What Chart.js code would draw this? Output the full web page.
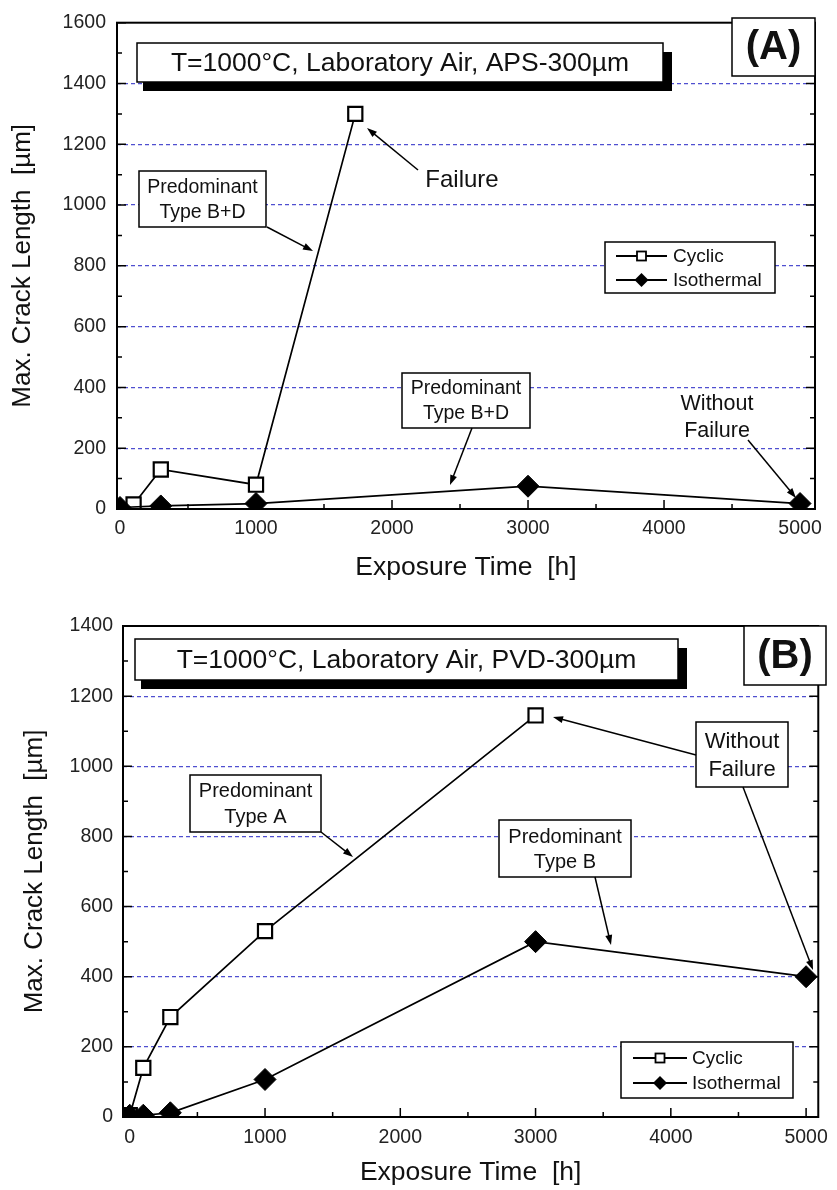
<!DOCTYPE html>
<html>
<head>
<meta charset="utf-8">
<script src="https://cdn.jsdelivr.net/npm/chart.js@4.4.1/dist/chart.umd.min.js"></script>
<style>
  html, body { margin: 0; padding: 0; background: #fff; }
  .panel { position: absolute; left: 0; width: 837px; height: 595px; }
</style>
</head>
<body>
<div class="panel" style="top:0"><canvas id="chartA" width="837" height="595"></canvas></div>
<div class="panel" style="top:595px"><canvas id="chartB" width="837" height="595"></canvas></div>
<script>
const FONT = "'Liberation Sans', Arial, sans-serif";

// axis ticks
const xTicks = [0, 1000, 2000, 3000, 4000, 5000];
const yTicksA = [0, 200, 400, 600, 800, 1000, 1200, 1400, 1600];
const yTicksB = [0, 200, 400, 600, 800, 1000, 1200, 1400];

const seriesNames = ['Cyclic', 'Isothermal'];

// (A) APS-300um
const timeCyclicA = [100, 300, 1000, 1730];
const crackCyclicA = [15, 130, 80, 1300];
const timeIsoA = [0, 300, 1000, 3000, 5000];
const crackIsoA = [5, 10, 18, 75, 18];

// (B) PVD-300um
const timeCyclicB = [0, 100, 300, 1000, 3000];
const crackCyclicB = [5, 140, 285, 530, 1145];
const timeIsoB = [0, 100, 300, 1000, 3000, 5000];
const crackIsoB = [5, 5, 12, 107, 500, 400];

function pts(xs, ys) {
  return xs.map((x, i) => ({ x: x, y: ys[i] }));
}

function drawArrow(ctx, x1, y1, x2, y2) {
  const ang = Math.atan2(y2 - y1, x2 - x1);
  const hl = 10, hw = 3.5;
  ctx.beginPath();
  ctx.moveTo(x1, y1);
  ctx.lineTo(x2 - Math.cos(ang) * hl * 0.8, y2 - Math.sin(ang) * hl * 0.8);
  ctx.stroke();
  ctx.beginPath();
  ctx.moveTo(x2, y2);
  ctx.lineTo(x2 - Math.cos(ang) * hl - Math.sin(ang) * hw, y2 - Math.sin(ang) * hl + Math.cos(ang) * hw);
  ctx.lineTo(x2 - Math.cos(ang) * hl + Math.sin(ang) * hw, y2 - Math.sin(ang) * hl - Math.cos(ang) * hw);
  ctx.closePath();
  ctx.fill();
}

function drawLines(ctx, lines, cx, cy, size, lh, bold) {
  ctx.font = (bold ? 'bold ' : '') + size + 'px ' + FONT;
  ctx.textAlign = 'center';
  ctx.textBaseline = 'middle';
  const y0 = cy - (lines.length - 1) * lh / 2;
  lines.forEach((s, i) => ctx.fillText(s, cx, y0 + i * lh));
}

// frame, inward ticks, text boxes, arrows and legend
const framePlugin = {
  id: 'frame',
  afterDraw(chart, args, o) {
    const ctx = chart.ctx, a = chart.chartArea;
    const xs = chart.scales.x, ys = chart.scales.y;
    ctx.save();
    ctx.strokeStyle = '#000';
    ctx.fillStyle = '#111';
    ctx.lineWidth = 1.5;
    ctx.beginPath();
    for (let v = 0; v <= xs.max; v += 500) {
      const px = xs.getPixelForValue(v);
      const len = v % 1000 === 0 ? 9 : 5;
      ctx.moveTo(px, a.bottom);
      ctx.lineTo(px, a.bottom - len);
    }
    for (let v = 0; v <= ys.max; v += 100) {
      const py = ys.getPixelForValue(v);
      const len = v % 200 === 0 ? 9 : 5;
      ctx.moveTo(a.left, py);
      ctx.lineTo(a.left + len, py);
      ctx.moveTo(a.right, py);
      ctx.lineTo(a.right - len, py);
    }
    ctx.stroke();
    ctx.lineWidth = 2;
    ctx.strokeRect(a.left, a.top, a.right - a.left, a.bottom - a.top);

    ctx.lineWidth = 1.5;
    o.items.forEach(it => {
      if (it.t === 'shadow') {
        ctx.fillStyle = '#000';
        ctx.fillRect(it.x1 + 6, it.y1 + 9, it.x2 - it.x1 + 3, it.y2 - it.y1);
        ctx.fillStyle = '#fff';
        ctx.fillRect(it.x1, it.y1, it.x2 - it.x1, it.y2 - it.y1);
        ctx.strokeRect(it.x1, it.y1, it.x2 - it.x1, it.y2 - it.y1);
        ctx.fillStyle = '#111';
        drawLines(ctx, [it.text], (it.x1 + it.x2) / 2, (it.y1 + it.y2) / 2 + 1, it.size, 0, false);
      } else if (it.t === 'box') {
        ctx.fillStyle = '#fff';
        ctx.fillRect(it.x1, it.y1, it.x2 - it.x1, it.y2 - it.y1);
        ctx.strokeRect(it.x1, it.y1, it.x2 - it.x1, it.y2 - it.y1);
        ctx.fillStyle = '#111';
        drawLines(ctx, it.lines, (it.x1 + it.x2) / 2, (it.y1 + it.y2) / 2 + 1, it.size, it.lh || 0, it.bold);
      } else if (it.t === 'text') {
        ctx.fillStyle = '#111';
        drawLines(ctx, it.lines, it.x, it.y, it.size, it.lh || 0, false);
      } else if (it.t === 'arrow') {
        ctx.fillStyle = '#000';
        drawArrow(ctx, it.x1, it.y1, it.x2, it.y2);
      } else if (it.t === 'legend') {
        ctx.fillStyle = '#fff';
        ctx.fillRect(it.x1, it.y1, it.x2 - it.x1, it.y2 - it.y1);
        ctx.strokeRect(it.x1, it.y1, it.x2 - it.x1, it.y2 - it.y1);
        const mx = (it.lx1 + it.lx2) / 2;
        it.rows.forEach((ry, i) => {
          ctx.lineWidth = 1.8;
          ctx.beginPath();
          ctx.moveTo(it.lx1, ry);
          ctx.lineTo(it.lx2, ry);
          ctx.stroke();
          if (i === 0) {
            ctx.fillStyle = '#fff';
            ctx.fillRect(mx - 4.5, ry - 4.5, 9, 9);
            ctx.strokeRect(mx - 4.5, ry - 4.5, 9, 9);
          } else {
            ctx.fillStyle = '#000';
            ctx.beginPath();
            ctx.moveTo(mx, ry - 7);
            ctx.lineTo(mx + 7, ry);
            ctx.lineTo(mx, ry + 7);
            ctx.lineTo(mx - 7, ry);
            ctx.closePath();
            ctx.fill();
          }
          ctx.lineWidth = 1.5;
          ctx.fillStyle = '#111';
          ctx.font = it.size + 'px ' + FONT;
          ctx.textAlign = 'left';
          ctx.textBaseline = 'middle';
          ctx.fillText(seriesNames[i], it.tx, ry + 1);
        });
      }
    });
    ctx.restore();
  }
};

function makeChart(id, cfg) {
  const yMax = cfg.yTicks[cfg.yTicks.length - 1];
  return new Chart(document.getElementById(id), {
    type: 'scatter',
    data: {
      datasets: [
        {
          label: seriesNames[0], data: cfg.cyclic, showLine: true,
          borderColor: '#000', borderWidth: 1.7,
          pointStyle: 'rect', pointRadius: 10,
          pointBackgroundColor: '#fff', pointBorderColor: '#000', pointBorderWidth: 2.2,
          order: 2
        },
        {
          label: seriesNames[1], data: cfg.iso, showLine: true,
          borderColor: '#000', borderWidth: 1.7,
          pointStyle: 'rectRot', pointRadius: 11,
          pointBackgroundColor: '#000', pointBorderColor: '#000', pointBorderWidth: 1,
          order: 1
        }
      ]
    },
    options: {
      responsive: false,
      animation: false,
      layout: { padding: cfg.padding },
      plugins: {
        legend: { display: false },
        tooltip: { enabled: false },
        frame: { items: cfg.items }
      },
      scales: {
        x: {
          type: 'linear', min: cfg.xMin, max: cfg.xMax,
          afterFit: s => { s.height = cfg.xH; },
          afterBuildTicks: s => { s.ticks = xTicks.map(v => ({ value: v })); },
          grid: { display: false, drawTicks: false },
          border: { display: false },
          ticks: {
            font: { family: FONT, size: 19.5 }, color: '#222', padding: cfg.xTickPad,
            maxRotation: 0, autoSkip: false, callback: v => String(v)
          },
          title: {
            display: true, text: 'Exposure Time  [h]', color: '#111',
            font: { family: FONT, size: 26.5 }, padding: { top: 0, bottom: cfg.xTitlePad }
          }
        },
        y: {
          type: 'linear', min: 0, max: yMax,
          afterFit: s => { s.width = cfg.yW; },
          afterBuildTicks: s => { s.ticks = cfg.yTicks.map(v => ({ value: v })); },
          grid: {
            drawTicks: false, lineWidth: 1.2,
            color: c => (c.tick && c.tick.value > 0 && c.tick.value < yMax) ? '#4f4fd0' : 'rgba(0,0,0,0)'
          },
          border: { display: false, dash: [4, 3] },
          ticks: {
            font: { family: FONT, size: 19.5 }, color: '#222', padding: cfg.yTickPad,
            autoSkip: false, callback: v => String(v)
          },
          title: {
            display: true, text: 'Max. Crack Length  [µm]', color: '#111',
            font: { family: FONT, size: 26 }, padding: { top: cfg.yTitlePad, bottom: 0 }
          }
        }
      }
    },
    plugins: [framePlugin]
  });
}

makeChart('chartA', {
  cyclic: pts(timeCyclicA, crackCyclicA),
  iso: pts(timeIsoA, crackIsoA),
  yTicks: yTicksA,
  xMin: -22, xMax: 5110,
  padding: { left: 0, right: 22, top: 18, bottom: 0 },
  yW: 117, xH: 86,
  xTickPad: 8, yTickPad: 11, xTitlePad: 11, yTitlePad: 7,
  items: [
    { t: 'shadow', x1: 137, y1: 43, x2: 663, y2: 82, text: 'T=1000°C, Laboratory Air, APS-300µm', size: 26.5 },
    { t: 'box', x1: 732, y1: 18, x2: 815, y2: 76, lines: ['(A)'], size: 40, bold: true },
    { t: 'box', x1: 139, y1: 171, x2: 266, y2: 227, lines: ['Predominant', 'Type B+D'], size: 19.5, lh: 25 },
    { t: 'arrow', x1: 267, y1: 227, x2: 313, y2: 251 },
    { t: 'text', x: 462, y: 180, lines: ['Failure'], size: 24 },
    { t: 'arrow', x1: 418, y1: 170, x2: 367, y2: 128 },
    { t: 'box', x1: 402, y1: 373, x2: 530, y2: 428, lines: ['Predominant', 'Type B+D'], size: 19.5, lh: 25 },
    { t: 'arrow', x1: 472, y1: 428, x2: 450, y2: 485 },
    { t: 'text', x: 717, y: 418, lines: ['Without', 'Failure'], size: 21.5, lh: 27 },
    { t: 'arrow', x1: 748, y1: 440, x2: 796, y2: 498 },
    { t: 'legend', x1: 605, y1: 242, x2: 775, y2: 293, rows: [256, 280], lx1: 616, lx2: 667, tx: 673, size: 19 }
  ]
});

makeChart('chartB', {
  cyclic: pts(timeCyclicB, crackCyclicB),
  iso: pts(timeIsoB, crackIsoB),
  yTicks: yTicksB,
  xMin: -50, xMax: 5090,
  padding: { left: 0, right: 11, top: 31, bottom: 0 },
  yW: 123, xH: 73,
  xTickPad: 9, yTickPad: 10, xTitlePad: 1, yTitlePad: 19,
  items: [
    { t: 'shadow', x1: 135, y1: 44, x2: 678, y2: 85, text: 'T=1000°C, Laboratory Air, PVD-300µm', size: 26.5 },
    { t: 'box', x1: 744, y1: 31, x2: 826, y2: 90, lines: ['(B)'], size: 40, bold: true },
    { t: 'box', x1: 190, y1: 180, x2: 321, y2: 237, lines: ['Predominant', 'Type A'], size: 20, lh: 26 },
    { t: 'arrow', x1: 321, y1: 237, x2: 353, y2: 262 },
    { t: 'box', x1: 696, y1: 127, x2: 788, y2: 192, lines: ['Without', 'Failure'], size: 22, lh: 28 },
    { t: 'arrow', x1: 696, y1: 160, x2: 553, y2: 122 },
    { t: 'arrow', x1: 743, y1: 192, x2: 813, y2: 375 },
    { t: 'box', x1: 499, y1: 225, x2: 631, y2: 282, lines: ['Predominant', 'Type B'], size: 20, lh: 25 },
    { t: 'arrow', x1: 595, y1: 282, x2: 611, y2: 350 },
    { t: 'legend', x1: 621, y1: 447, x2: 793, y2: 503, rows: [463, 488], lx1: 633, lx2: 687, tx: 692, size: 19 }
  ]
});
</script>
</body>
</html>
